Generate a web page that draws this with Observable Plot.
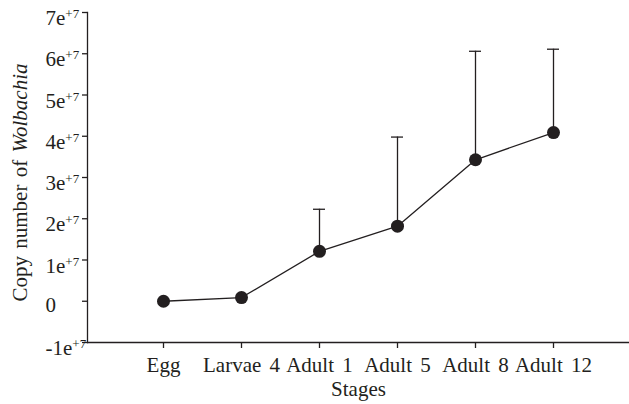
<!DOCTYPE html>
<html>
<head>
<meta charset="utf-8">
<script src="https://cdn.jsdelivr.net/npm/d3@7"></script>
<script src="https://cdn.jsdelivr.net/npm/@observablehq/plot@0.6"></script>
<style>
  html, body { margin: 0; padding: 0; background: #fff; }
</style>
</head>
<body>
<div id="chart"></div>
<script>
const stages = ["Egg", "Larvae 4", "Adult 1", "Adult 5", "Adult 8", "Adult 12"];
const means = [0, 0.09e7, 1.21e7, 1.82e7, 3.43e7, 4.09e7];
const upper = [null, null, 2.23e7, 3.98e7, 6.06e7, 6.11e7];
const yTicks = [-1e7, 0, 1e7, 2e7, 3e7, 4e7, 5e7, 6e7, 7e7];
const yTickLabels = ["-1e+7", "0", "1e+7", "2e+7", "3e+7", "4e+7", "5e+7", "6e+7", "7e+7"];

const data = stages.map((s, i) => ({stage: s, mean: means[i], upper: upper[i]}));
const errData = data.filter(d => d.upper != null);
const ink = "#231f20";

const chart = Plot.plot({
  width: 629,
  height: 404,
  marginLeft: 87,
  marginRight: 0,
  marginTop: 12,
  marginBottom: 62,
  style: {fontFamily: "'Liberation Serif', 'Times New Roman', serif", fontSize: "21px", color: ink, background: "#fff"},
  x: {type: "point", domain: stages, padding: 0.96, label: null},
  y: {domain: [-1e7, 7e7], label: null},
  marks: [
    Plot.frame({anchor: "left", stroke: ink, strokeWidth: 1.3}),
    Plot.ruleY([-1e7], {stroke: ink, strokeWidth: 1.3}),
    Plot.axisX({tickSize: 6, tickPadding: 9, fontSize: 21, label: null, stroke: ink, strokeWidth: 1.3}),
    Plot.axisY({ticks: yTicks, tickFormat: d => yTickLabels[yTicks.indexOf(d)], tickSize: 5, tickPadding: 37,
                textAnchor: "start", fontSize: 21, label: null, stroke: ink, strokeWidth: 1.3}),
    Plot.text(["Stages"], {frameAnchor: "bottom", dy: 47, lineAnchor: "middle", fontSize: 21, fill: ink}),
    Plot.text(["Copy number of Wolbachia"], {frameAnchor: "left", textAnchor: "middle", rotate: -90, dx: -67, dy: 5, lineAnchor: "middle", fontSize: 21, fill: ink}),
    Plot.ruleX(errData, {x: "stage", y1: "mean", y2: "upper", stroke: ink, strokeWidth: 1.3}),
    Plot.ruleY(errData, {x1: "stage", x2: "stage", y: "upper", insetLeft: -6, insetRight: -6, stroke: ink, strokeWidth: 1.3}),
    Plot.line(data, {x: "stage", y: "mean", stroke: ink, strokeWidth: 1.3}),
    Plot.dot(data, {x: "stage", y: "mean", r: 6.5, fill: ink, stroke: "none"})
  ]
});

document.getElementById("chart").appendChild(chart);

// Superscript exponents on y tick labels, italic genus name in y label, wider word spacing
const svg = d3.select(chart);
svg.selectAll("text").each(function() {
  const t = this.textContent;
  const el = d3.select(this);
  if (/^-?\de\+\d$/.test(t)) {
    const [base, exp] = t.split("e");
    el.text(null);
    el.attr("transform", (el.attr("transform") || "") + " translate(0,6)");
    el.append("tspan").text(base + "e");
    el.append("tspan").attr("dy", "-0.55em").attr("font-size", "13px").text(exp);
  } else if (t === "0") {
    el.attr("transform", (el.attr("transform") || "") + " translate(0,4)");
  } else if (t === "Copy number of Wolbachia") {
    el.text(null);
    el.attr("word-spacing", "2px");
    el.append("tspan").text("Copy number of ");
    el.append("tspan").attr("font-style", "italic").text("Wolbachia");
  } else if (stages.includes(t)) {
    el.attr("word-spacing", "3px");
  }
});
</script>
</body>
</html>
